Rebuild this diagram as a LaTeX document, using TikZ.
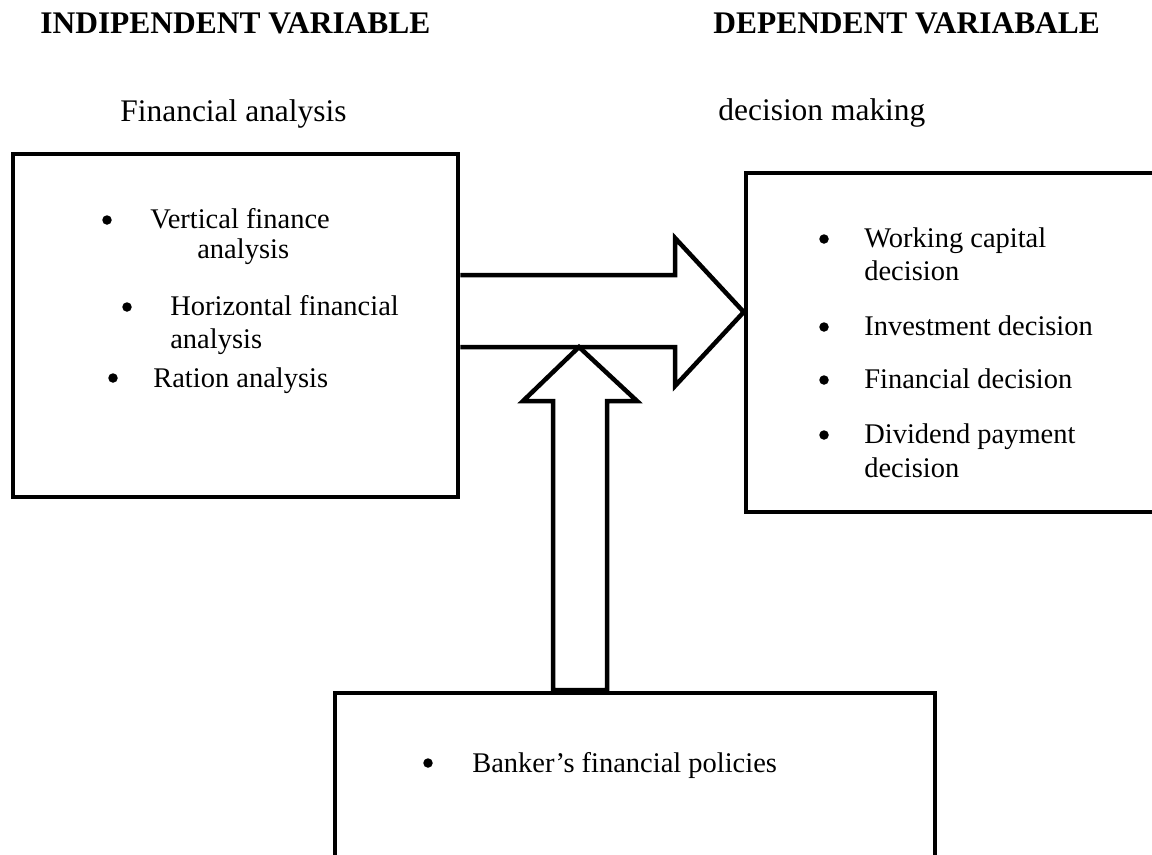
\documentclass[tikz,border=0pt]{standalone}
\usepackage{fontspec}
\setmainfont{Liberation Serif}
\usetikzlibrary{positioning}

\begin{document}
\begin{tikzpicture}[
    panel/.style={
        rectangle,
        draw,
        line width=0.09cm,
        inner sep=0pt
    },
    head/.style={
        anchor=base west,
        inner sep=0pt,
        font=\fontsize{17.9}{21}\selectfont
    },
    item/.style={
        anchor=base west,
        inner sep=0pt,
        font=\fontsize{16.2}{19}\selectfont
    },
    dot/.style={
        circle,
        fill,
        inner sep=0pt,
        minimum size=0.19cm
    },
    blockarrow/.style={draw, line width=0.09cm, miter limit=10}
]

% Page
\useasboundingbox (0,0) rectangle (23.04,-17.08);
\clip (0,0) rectangle (23.04,-17.08);

% Headings
\node[head] (indep) at (0.80,-0.66) {\textbf{INDIPENDENT VARIABLE}};
\node[head] (dep) at (14.26,-0.66) {\textbf{DEPENDENT VARIABALE}};
\node[head] (fin) at (2.40,-2.42) {Financial analysis};
\node[head] (dec) at (14.36,-2.40) {decision making};

% Boxes
\node[panel, minimum width=8.9cm, minimum height=6.86cm] (fa) at (4.71,-6.51) {};
\node[panel, minimum width=8.18cm, minimum height=6.78cm] (dm) at (19.01,-6.85) {};
\node[panel, minimum width=12.0cm, minimum height=3.64cm] (bp) at (12.70,-15.68) {};

% Financial analysis items
\node[dot] (fb1) at (2.14,-4.40) {};
\node[item] (f1) at (3.00,-4.56) {Vertical finance};
\node[item] (f1b) at (3.94,-5.16) {analysis};
\node[dot] (fb2) at (2.54,-6.14) {};
\node[item] (f2) at (3.40,-6.30) {Horizontal financial};
\node[item] (f2b) at (3.40,-6.96) {analysis};
\node[dot] (fb3) at (2.26,-7.56) {};
\node[item] (f3) at (3.06,-7.74) {Ration analysis};

% Decision making items
\node[dot] (db1) at (16.48,-4.78) {};
\node[item] (d1) at (17.28,-4.94) {Working capital};
\node[item] (d1b) at (17.28,-5.60) {decision};
\node[dot] (db2) at (16.48,-6.54) {};
\node[item] (d2) at (17.28,-6.70) {Investment decision};
\node[dot] (db3) at (16.48,-7.60) {};
\node[item] (d3) at (17.28,-7.76) {Financial decision};
\node[dot] (db4) at (16.48,-8.70) {};
\node[item] (d4) at (17.28,-8.86) {Dividend payment};
\node[item] (d4b) at (17.28,-9.54) {decision};

% Banker item
\node[dot] (bb1) at (8.56,-15.26) {};
\node[item] (b1) at (9.44,-15.44) {Banker’s financial policies};

% Block arrow fa -> dm
\draw[blockarrow] (fa.east |- 0,-5.50) -| (13.50,-4.76)
    -- (dm.west |- 0,-6.24) -- (13.50,-7.72) |- (fa.east |- 0,-6.94);

% Block arrow bp -> shaft
\draw[blockarrow] (11.06,-13.80) -- (11.06,-8.02) -- (10.46,-8.02)
    -- (11.58,-6.94) -- (12.74,-8.02) -- (12.14,-8.02) -- (12.14,-13.80) -- cycle;
\draw[blockarrow] (bp.north -| 11.06,0) -- (11.06,-13.80);

\end{tikzpicture}
\end{document}
